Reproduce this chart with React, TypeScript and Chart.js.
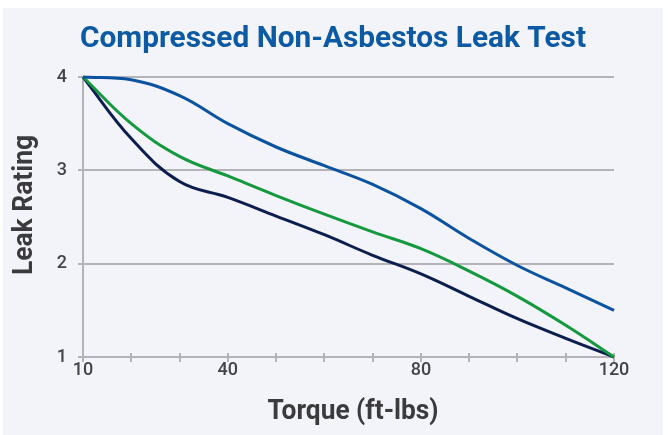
import React, { useEffect, useRef } from "react";
import { Chart, registerables } from "chart.js";

Chart.register(...registerables);

const TITLE = "Compressed Non-Asbestos Leak Test";
const X_TITLE = "Torque (ft-lbs)";
const Y_TITLE = "Leak Rating";

const torque = [10, 20, 30, 40, 50, 60, 70, 80, 90, 100, 110, 120];
const seriesBlue = [4.0, 3.97, 3.8, 3.5, 3.25, 3.05, 2.85, 2.59, 2.27, 1.98, 1.74, 1.5];
const seriesGreen = [4.0, 3.5, 3.15, 2.94, 2.73, 2.53, 2.34, 2.16, 1.92, 1.65, 1.34, 1.0];
const seriesNavy = [4.0, 3.34, 2.88, 2.71, 2.51, 2.31, 2.09, 1.89, 1.65, 1.41, 1.2, 1.0];
const xLabelled = [10, 40, 80, 120];

const GRID = "#b3b3b8";
const BG = "#f3f4f9";

const textPlugin = {
  id: "texts",
  beforeDatasetsDraw(chart: any) {
    const ctx = chart.ctx;
    const xs = chart.scales.x;
    const bottom = chart.chartArea.bottom;
    ctx.save();
    ctx.strokeStyle = GRID;
    ctx.lineWidth = 2;
    xs.ticks.forEach((t: any) => {
      const px = Math.round(xs.getPixelForValue(t.value));
      ctx.beginPath();
      ctx.moveTo(px, bottom - 4);
      ctx.lineTo(px, bottom);
      ctx.stroke();
    });
    ctx.restore();
  },
  afterDraw(chart: any) {
    const ctx = chart.ctx;
    ctx.save();
    ctx.textAlign = "center";
    ctx.textBaseline = "alphabetic";
    ctx.fillStyle = "#0b5aa3";
    ctx.font = "bold 30px Roboto";
    ctx.fillText(TITLE, 330, 39, 506);
    ctx.fillStyle = "#3b3b3d";
    ctx.font = "bold 27px Roboto";
    ctx.fillText(X_TITLE, 350, 411, 171);
    ctx.translate(29, 197);
    ctx.rotate(-Math.PI / 2);
    ctx.fillText(Y_TITLE, 0, 0, 140);
    ctx.restore();
  },
};

export default function App() {
  const ref = useRef<HTMLCanvasElement>(null);
  useEffect(() => {
    const canvas = ref.current!;
    const mk = (label: string, data: number[], color: string) => ({
      label,
      data: torque.map((x, i) => ({ x, y: data[i] })),
      borderColor: color,
      backgroundColor: color,
      borderWidth: 3,
      pointRadius: 0,
      tension: 0.4,
      clip: false as any,
    });
    const chart = new Chart(canvas, {
      type: "line",
      data: {
        datasets: [
          mk("Series 1", seriesBlue, "#0b53a1"),
          mk("Series 2", seriesGreen, "#14993e"),
          mk("Series 3", seriesNavy, "#0c1e4e"),
        ],
      },
      options: {
        responsive: false,
        animation: false,
        layout: { padding: { top: 69, right: 49, left: 0, bottom: 0 } },
        plugins: { legend: { display: false }, tooltip: { enabled: false }, title: { display: false } },
        scales: {
          x: {
            type: "linear",
            min: 10,
            max: 120,
            afterFit: (s: any) => { s.height = 78; },
            border: { display: true, color: GRID, width: 2 },
            grid: { display: true, drawOnChartArea: false, drawTicks: true, tickLength: 5, color: GRID, lineWidth: 2 },
            ticks: {
              stepSize: 10,
              autoSkip: false,
              maxRotation: 0,
              padding: -2,
              color: "#444448",
              font: { family: "Roboto", size: 18, weight: "500" as any },
              callback: (v: any) => (xLabelled.includes(Number(v)) ? String(v) : ""),
            },
          },
          y: {
            min: 1,
            max: 4,
            afterFit: (s: any) => { s.width = 80; },
            border: { display: true, color: GRID, width: 2 },
            grid: { display: true, drawTicks: true, tickLength: 5, color: GRID, lineWidth: 2 },
            ticks: {
              stepSize: 1,
              padding: 11,
              color: "#444448",
              font: { family: "Roboto", size: 18, weight: "500" as any },
            },
          },
        },
      },
      plugins: [textPlugin],
    });
    return () => chart.destroy();
  }, []);
  return (
    <div style={{ position: "absolute", left: 3, top: 8, width: 660, height: 427, background: BG }}>
      <canvas ref={ref} width={660} height={427} style={{ display: "block" }} />
    </div>
  );
}
